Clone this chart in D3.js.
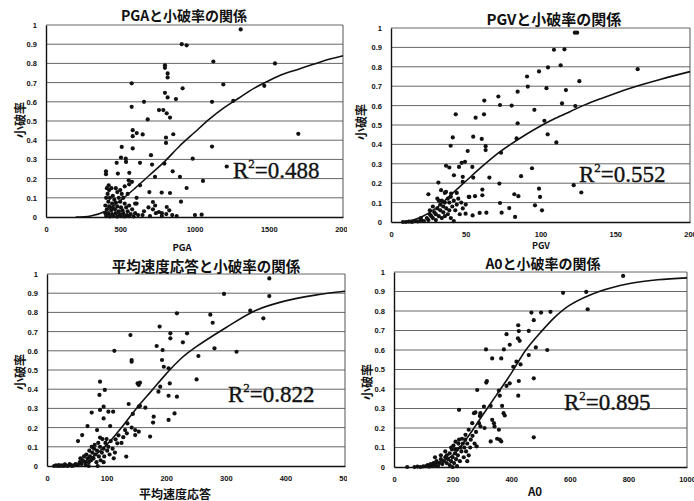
<!DOCTYPE html>
<html>
<head>
<meta charset="utf-8">
<script src="https://cdn.jsdelivr.net/npm/d3@7"></script>
<style>
  body { margin: 0; background: #fff; }
  svg { display: block; }
  .tick text { font-family: "Liberation Sans", "DejaVu Sans", sans-serif; font-weight: bold; font-size: 7.5px; fill: #111; }
  .grid line { stroke: #666; stroke-width: 1; }
  .title { font-family: "Noto Sans CJK JP", sans-serif; font-weight: bold; fill: #111; }
  .r2 { font-family: "Liberation Serif", "DejaVu Serif", serif; fill: #111; stroke: #111; stroke-width: 0.35; }
</style>
</head>
<body>
<div id="chart"></div>
<script>
// ---- data ----
const yTicks = [0, 0.1, 0.2, 0.3, 0.4, 0.5, 0.6, 0.7, 0.8, 0.9, 1];

const pgaTicks = [0, 500, 1000, 1500, 2000];
const pgaPoints = [
  [914,0.90],[947,0.894],[801,0.79],[801,0.777],[819,0.748],[819,0.727],[577,0.696],[920,0.67],
  [801,0.647],[819,0.623],[875,0.614],[660,0.6],[577,0.574],[761,0.557],[790,0.557],[813,0.54],
  [835,0.518],[685,0.508],[584,0.452],[584,0.421],[611,0.437],[651,0.43],[808,0.414],[808,0.386],
  [857,0.431],[510,0.365],[584,0.357],[505,0.31],[537,0.304],[539,0.287],[476,0.282],[633,0.282],
  [707,0.322],[714,0.273],[797,0.278],[988,0.304],[561,0.23],[484,0.226],[404,0.238],[404,0.223],
  [557,0.191],[579,0.183],[734,0.209],[853,0.238],[902,0.209],[1057,0.188],[947,0.151],[633,0.165],
  [422,0.165],[696,0.13],[779,0.127],[835,0.125],[720,0.078],[735,0.06],[610,0.07],[690,0.05],
  [813,0.052],[830,0.035],[760,0.026],[780,0.02],[1003,0.01],[1048,0.012],[909,0.08],
  [1311,0.977],[1127,0.81],[1542,0.8],[1194,0.69],[1470,0.683],[1118,0.6],[1261,0.605],
  [1699,0.433],[1118,0.367],[1217,0.263],
  [410,0.15],[425,0.14],[440,0.15],[470,0.15],[480,0.13],[500,0.14],[510,0.12],[415,0.12],
  [450,0.11],[430,0.1],[405,0.1],[460,0.09],[490,0.1],[520,0.1],[420,0.08],[445,0.07],
  [470,0.075],[500,0.08],[530,0.07],[400,0.06],[425,0.055],[450,0.05],[480,0.055],[505,0.05],
  [540,0.05],[560,0.06],[410,0.04],[440,0.035],[465,0.04],[490,0.03],[515,0.035],[550,0.03],
  [580,0.04],[400,0.02],[420,0.02],[445,0.015],[470,0.02],[495,0.015],[520,0.02],[545,0.01],
  [570,0.015],[600,0.02],[620,0.01],[405,0.005],[430,0.003],[455,0.005],[480,0.002],[505,0.005],
  [530,0.003],[560,0.005],[590,0.003],[650,0.01],[700,0.005],[740,0.02],[780,0.005],[810,0.015],
  [850,0.01],[880,0.005],[660,0.03],[720,0.04],[600,0.07],[610,0.1],[550,0.12],[560,0.17],[530,0.16]
];
const pgaCurve = [
  [200,0],[300,0.005],[400,0.03],[500,0.085],[600,0.15],[700,0.22],[800,0.29],[900,0.37],
  [1000,0.44],[1100,0.51],[1200,0.57],[1300,0.62],[1400,0.67],[1500,0.71],[1600,0.745],
  [1700,0.77],[1800,0.795],[1900,0.82],[2000,0.84]
];

const pgvTicks = [0, 50, 100, 150, 200];
const pgvPoints = [
  [123,0.976],[124.5,0.976],[109,0.888],[116,0.89],[113.5,0.808],[105,0.797],[99,0.776],[91,0.75],
  [126,0.726],[91.5,0.698],[84.7,0.672],[104,0.69],[117,0.68],[165,0.788],[62.4,0.626],[71.8,0.647],
  [72.9,0.603],[80.7,0.6],[95.9,0.578],[114.4,0.611],[123.3,0.598],[43.3,0.555],[56.6,0.538],
  [62.2,0.555],[84.7,0.509],[102.6,0.522],[104.8,0.452],[110.6,0.41],[41.3,0.436],[55,0.44],
  [60.7,0.428],[39.9,0.393],[63.3,0.391],[63.3,0.371],[84,0.431],[51.3,0.366],[47.3,0.305],
  [49.5,0.31],[45.5,0.284],[36.8,0.29],[39,0.281],[54.4,0.284],[73.6,0.357],[42.1,0.241],[48,0.233],
  [48,0.207],[55,0.229],[65.8,0.229],[72.5,0.198],[87,0.236],[94.3,0.277],[31.7,0.203],[33.5,0.164],
  [36.8,0.155],[40.2,0.147],[25,0.143],[52.4,0.129],[56.2,0.133],[61.1,0.138],[61.1,0.167],
  [82.5,0.143],[85.2,0.133],[99,0.172],[99.7,0.129],[122.2,0.19],[127.3,0.152],[72.9,0.098],
  [96.3,0.086],[79.1,0.072],[101,0.06],[63.8,0.048],[59.3,0.047],[54.6,0.034],[49.9,0.043],
  [74,0.048],[83,0.026],
  [8,0],[10,0],[12,0.002],[14,0],[16,0.005],[18,0.003],[20,0.01],[22,0.005],[20,0.02],[24,0.02],
  [25,0.01],[26,0.04],[27,0.03],[28,0.02],[29,0.05],[30,0.04],[30,0.01],[31,0.07],[32,0.03],
  [33,0.06],[33,0.09],[34,0.02],[34,0.11],[35,0.05],[35,0.08],[36,0.1],[36,0.03],[37,0.07],
  [38,0.12],[38,0.04],[39,0.06],[39,0.1],[40,0.02],[41,0.08],[42,0.005],[42,0.11],[43,0.06],
  [44,0.09],[45,0.12],[46,0.04],[47,0.1],[48,0.07],[26,0.06],[28,0.08],[31,0.12],[32,0.11],
  [40,0.13],[36,0.15],[44,0.15],[50,0.09],[52,0.13]
];
const pgvCurve = [
  [10,0.002],[20,0.025],[30,0.07],[40,0.14],[50,0.21],[60,0.28],[70,0.345],[80,0.40],[90,0.45],
  [100,0.495],[110,0.535],[120,0.57],[130,0.605],[140,0.635],[160,0.69],[180,0.735],[200,0.775]
];

const svaTicks = [0, 100, 200, 300, 400, 500];
const svaPoints = [
  [373,0.977],[297,0.896],[373,0.885],[341,0.809],[363,0.769],[274,0.788],[278,0.746],[218,0.795],
  [189,0.726],[207,0.691],[207,0.665],[235,0.691],[228,0.644],[281,0.613],[318,0.595],[140,0.682],
  [113,0.6],[184,0.625],[194,0.604],[142,0.552],[142,0.543],[193,0.552],[196,0.517],[204,0.509],
  [254,0.573],[251,0.451],[152,0.43],[156,0.434],[154,0.422],[206,0.43],[190,0.413],[187,0.387],
  [89,0.439],[88,0.37],[97,0.396],[95,0.309],[89,0.292],[103,0.283],[111,0.283],[137,0.323],
  [144,0.271],[154,0.309],[156,0.313],[165,0.304],[204,0.366],[218,0.361],[214,0.274],[204,0.24],
  [179,0.257],[178,0.226],[75,0.278],[68,0.208],[95,0.248],[106,0.208],[59,0.161],[52,0.13],
  [84,0.187],[89,0.148],[115,0.139],[135,0.222],[142,0.2],[148,0.187],[131,0.187],[134,0.17],
  [148,0.161],[154,0.179],[118,0.118],[173,0.153],[133,0.049],[125,0.12],[128,0.15],[120,0.16],
  [12,0],[15,0.003],[18,0],[20,0.005],[22,0],[25,0.003],[28,0],[30,0.008],[32,0.002],[35,0],
  [38,0.01],[40,0.005],[42,0],[45,0.003],[48,0.01],[52,0.005],[55,0.02],[56,0.04],[58,0.01],
  [60,0.03],[62,0.05],[64,0.02],[65,0.005],[66,0.06],[68,0.04],[70,0.02],[71,0.08],[72,0.05],
  [74,0.03],[75,0.1],[76,0.07],[78,0.04],[79,0.09],[80,0.11],[81,0.06],[83,0.02],[84,0.08],
  [86,0.12],[87,0.05],[89,0.1],[90,0.03],[92,0.07],[93,0.14],[95,0.09],[96,0.05],[98,0.12],
  [100,0.14],[101,0.08],[103,0.1],[105,0.06],[107,0.13],[110,0.09],[112,0.04],[114,0.07],
  [95,0.02],[85,0],[70,0]
];
const svaCurve = [
  [30,0],[50,0.01],[75,0.045],[100,0.11],[125,0.2],[150,0.3],[175,0.39],[200,0.48],[225,0.56],
  [250,0.62],[300,0.72],[350,0.81],[400,0.86],[450,0.89],[500,0.91]
];

const a0Ticks = [0, 200, 400, 600, 800, 1000];
const a0Points = [
  [782,0.98],[577,0.893],[656,0.898],[661,0.809],[469,0.792],[502,0.792],[534,0.796],[477,0.753],
  [426,0.697],[460,0.698],[384,0.681],[424,0.727],[395,0.627],[423,0.66],[429,0.647],[484,0.613],
  [523,0.6],[314,0.603],[375,0.603],[335,0.557],[366,0.557],[460,0.574],[407,0.514],[418,0.54],
  [432,0.526],[477,0.455],[426,0.441],[424,0.366],[395,0.429],[384,0.416],[315,0.433],[317,0.441],
  [358,0.392],[361,0.366],[284,0.395],[369,0.313],[378,0.264],[374,0.276],[330,0.313],[307,0.31],
  [295,0.276],[273,0.276],[278,0.28],[222,0.293],[335,0.242],[341,0.225],[343,0.208],[358,0.191],
  [352,0.145],[361,0.14],[366,0.131],[330,0.131],[293,0.262],[290,0.225],[295,0.208],[309,0.2],
  [477,0.152],[267,0.225],[255,0.191],[244,0.165],[282,0.106],
  [45,0],[70,0],[80,0.002],[90,0],[100,0.003],[110,0.005],[115,0.01],[120,0.002],[125,0.015],
  [130,0.005],[135,0.02],[140,0.01],[145,0.03],[150,0.005],[155,0.02],[160,0.04],[165,0.015],
  [170,0.03],[175,0.05],[180,0.02],[180,0.06],[185,0.04],[190,0.07],[190,0.01],[195,0.03],
  [198,0.09],[200,0.05],[203,0.11],[205,0.02],[208,0.07],[210,0.13],[212,0.04],[215,0.09],
  [218,0.06],[220,0.12],[222,0.14],[225,0.03],[227,0.1],[230,0.08],[232,0.145],[235,0.12],
  [238,0.05],[240,0.1],[243,0.14],[246,0.08],[250,0.12],[255,0.06],[260,0.1],[262,0.14],
  [268,0.16],[275,0.12],[280,0.18],[200,0],[215,0.005],[140,0.05],[160,0.06],[175,0.08],
  [195,0.1],[210,0.09],[250,0.03]
];
const a0Curve = [
  [100,0.003],[150,0.02],[200,0.06],[250,0.15],[300,0.26],[350,0.37],[400,0.48],[450,0.6],
  [500,0.69],[550,0.77],[600,0.83],[700,0.9],[800,0.94],[900,0.96],[1000,0.97]
];

const titles = ["PGAと小破率の関係", "PGVと小破率の関係", "平均速度応答と小破率の関係", "A0と小破率の関係"];
const xLabels = ["PGA", "PGV", "平均速度応答", "A0"];
const r2Values = ["0.488", "0.552", "0.822", "0.895"];

// ---- layout ----
const W = 694, H = 501;
const panels = [
  { clip: [0, 0, 347, 250], plot: [46, 343, 25, 217], xmax: 2000, ticks: pgaTicks, points: pgaPoints, curve: pgaCurve,
    title: [184, 21, 14], ylab: [22, 120], xlab: [182, 251, 9.5], r2: [233, 178] },
  { clip: [347, 0, 347, 250], plot: [391, 690, 28, 222], xmax: 200, ticks: pgvTicks, points: pgvPoints, curve: pgvCurve,
    title: [554, 25, 15], ylab: [363, 122], xlab: [541, 249, 9], r2: [579, 182] },
  { clip: [0, 250, 347, 251], plot: [47, 345, 274, 466], xmax: 500, ticks: svaTicks, points: svaPoints, curve: svaCurve,
    title: [206, 272, 14.5], ylab: [22, 372], xlab: [175, 499, 12], r2: [228, 402] },
  { clip: [347, 250, 347, 251], plot: [394, 687, 272, 467], xmax: 1000, ticks: a0Ticks, points: a0Points, curve: a0Curve,
    title: [543, 269, 14], ylab: [369, 382], xlab: [535, 496, 11.5], r2: [564, 410] }
];

const svg = d3.select("#chart").append("svg").attr("width", W).attr("height", H);

panels.forEach((p, i) => {
  const [cx, cy, cw, ch] = p.clip;
  svg.append("clipPath").attr("id", "clip" + i)
    .append("rect").attr("x", cx).attr("y", cy).attr("width", cw).attr("height", ch);
  const g = svg.append("g").attr("clip-path", "url(#clip" + i + ")");

  const [x0, x1, y0, y1] = p.plot;
  const x = d3.scaleLinear().domain([0, p.xmax]).range([x0, x1]);
  const y = d3.scaleLinear().domain([0, 1]).range([y1, y0]);

  // gridlines
  g.append("g").attr("class", "grid")
    .selectAll("line").data(yTicks.slice(1)).join("line")
    .attr("x1", x0).attr("x2", x1)
    .attr("y1", d => y(d)).attr("y2", d => y(d));
  g.append("line").attr("x1", x1).attr("x2", x1).attr("y1", y0).attr("y2", y1)
    .attr("stroke", "#555").attr("stroke-width", 1);

  // axes
  g.append("g").attr("transform", "translate(" + x0 + ",0)")
    .call(d3.axisLeft(y).tickValues(yTicks).tickSize(0).tickPadding(9)
      .tickFormat(d => d === 0 ? "0" : d === 1 ? "1" : d3.format(".1f")(d)));
  g.append("g").attr("transform", "translate(0," + y1 + ")")
    .call(d3.axisBottom(x).tickValues(p.ticks).tickSize(0).tickPadding(10).tickFormat(d3.format("d")));
  g.selectAll(".domain").attr("stroke", "#111").attr("stroke-width", 1.4);

  // points
  g.append("g").selectAll("circle").data(p.points).join("circle")
    .attr("cx", d => x(d[0])).attr("cy", d => y(d[1])).attr("r", 2.1)
    .attr("fill", "#111");

  // fitted curve
  g.append("path").datum(p.curve)
    .attr("fill", "none").attr("stroke", "#111").attr("stroke-width", 1.6)
    .attr("d", d3.line().x(d => x(d[0])).y(d => y(d[1])).curve(d3.curveCatmullRom));

  // title
  g.append("text").attr("class", "title")
    .attr("x", p.title[0]).attr("y", p.title[1]).attr("text-anchor", "middle")
    .attr("font-size", p.title[2]).text(titles[i]);

  // y label
  g.append("text").attr("class", "title")
    .attr("transform", "translate(" + p.ylab[0] + "," + p.ylab[1] + ") rotate(-90)")
    .attr("text-anchor", "middle").attr("dominant-baseline", "middle")
    .attr("font-size", 12).text("小破率");

  // R^2 label
  const r2 = g.append("text").attr("class", "r2")
    .attr("x", p.r2[0]).attr("y", p.r2[1]).attr("font-size", 23);
  r2.append("tspan").text("R");
  r2.append("tspan").attr("dy", -10).attr("font-size", 13).text("2");
  r2.append("tspan").attr("dy", 10).text("=" + r2Values[i]);
});

// x-axis titles sit across the panel seams
panels.forEach((p, i) => {
  svg.append("text").attr("class", "title")
    .attr("x", p.xlab[0]).attr("y", p.xlab[1]).attr("text-anchor", "middle")
    .attr("font-size", p.xlab[2]).text(xLabels[i]);
});
</script>
</body>
</html>
